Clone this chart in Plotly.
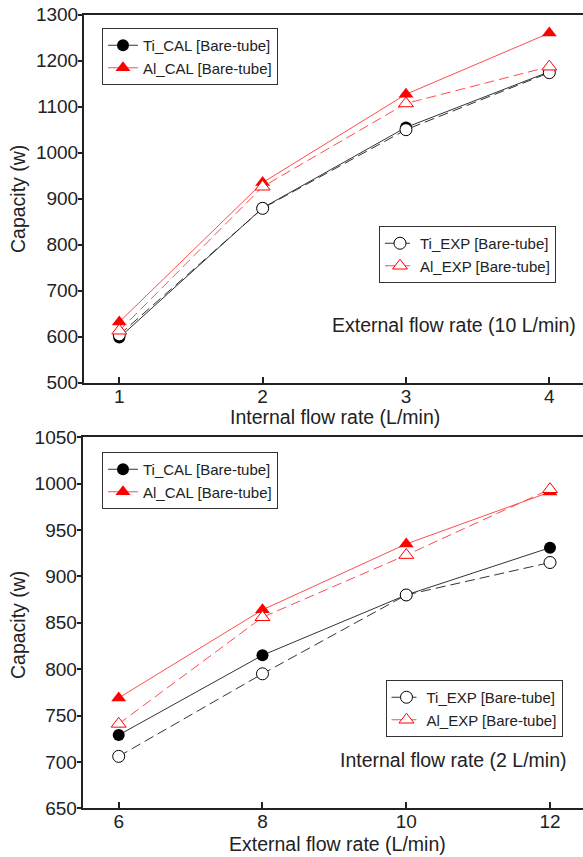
import plotly.graph_objects as go

# Top panel: capacity vs internal flow rate (external flow fixed at 10 L/min)
internal_flow = [1, 2, 3, 4]
top_ti_cal = [598, 880, 1055, 1176]
top_al_cal = [632, 935, 1127, 1260]
top_ti_exp = [604, 879, 1050, 1174]
top_al_exp = [613, 926, 1107, 1187]

# Bottom panel: capacity vs external flow rate (internal flow fixed at 2 L/min)
external_flow = [6, 8, 10, 12]
bot_ti_cal = [729, 815, 880, 931]
bot_al_cal = [769, 864, 935, 991]
bot_ti_exp = [706, 795, 880, 915]
bot_al_exp = [741, 856, 923, 994]

top_yticks = [500, 600, 700, 800, 900, 1000, 1100, 1200, 1300]
bot_yticks = [650, 700, 750, 800, 850, 900, 950, 1000, 1050]

W, H = 583, 857
FONT = "Liberation Sans, Arial, sans-serif"
TXT = "#222222"
BLACK_LINE = "#333333"
RED_LINE = "#ff4d4d"
RED = "#ff0000"


def px_x(p):
    return p / W


def px_y(p):
    return 1 - p / H


fig = go.Figure()


def add_series(x, y, name, xa, ya, legend, style):
    if style == "ti_cal":
        line = dict(color=BLACK_LINE, width=1)
        marker = dict(symbol="circle", size=12, color="black")
    elif style == "al_cal":
        line = dict(color=RED_LINE, width=1)
        marker = dict(symbol="triangle-up", size=13, color=RED)
    elif style == "ti_exp":
        line = dict(color=BLACK_LINE, width=1, dash="10px,5px")
        marker = dict(symbol="circle", size=12, color="white",
                      line=dict(color="black", width=1))
    else:
        line = dict(color=RED_LINE, width=1, dash="10px,5px")
        marker = dict(symbol="triangle-up", size=13, color="white",
                      line=dict(color=RED, width=1))
    fig.add_trace(go.Scatter(
        x=x, y=y, name=name, mode="lines+markers",
        line=line, marker=marker, xaxis=xa, yaxis=ya, legend=legend,
    ))


# top panel traces
add_series(internal_flow, top_ti_cal, "Ti_CAL [Bare-tube]", "x", "y", "legend", "ti_cal")
add_series(internal_flow, top_al_cal, "Al_CAL [Bare-tube]", "x", "y", "legend", "al_cal")
add_series(internal_flow, top_ti_exp, "Ti_EXP [Bare-tube]", "x", "y", "legend2", "ti_exp")
add_series(internal_flow, top_al_exp, "Al_EXP [Bare-tube]", "x", "y", "legend2", "al_exp")

# bottom panel traces
add_series(external_flow, bot_ti_cal, "Ti_CAL [Bare-tube]", "x2", "y2", "legend3", "ti_cal")
add_series(external_flow, bot_al_cal, "Al_CAL [Bare-tube]", "x2", "y2", "legend3", "al_cal")
add_series(external_flow, bot_ti_exp, "Ti_EXP [Bare-tube]", "x2", "y2", "legend4", "ti_exp")
add_series(external_flow, bot_al_exp, "Al_EXP [Bare-tube]", "x2", "y2", "legend4", "al_exp")

axis_common = dict(
    showgrid=False, zeroline=False, showline=True, automargin=False,
    linecolor="#222222", linewidth=2,
    tickfont=dict(family=FONT, size=19, color=TXT),
    tickcolor="#222222", tickwidth=1.5,
)
x_common = dict(axis_common, ticks="inside", ticklen=6, mirror=True,
                ticklabelstandoff=-5)
y_common = dict(axis_common, ticks="outside", ticklen=4, ticklabelstandoff=-4)

legend_common = dict(
    bgcolor="white", bordercolor="#333333", borderwidth=1,
    font=dict(family=FONT, size=15, color=TXT),
    xanchor="left", yanchor="top", tracegroupgap=0,
)

fig.update_layout(
    width=W, height=H,
    margin=dict(l=0, r=0, t=0, b=0, autoexpand=False),
    paper_bgcolor="white", plot_bgcolor="white",
    xaxis=dict(x_common, domain=[px_x(84), 1], range=[0.7537, 4.2351],
               tickvals=internal_flow, anchor="y"),
    yaxis=dict(y_common, domain=[px_y(382.7), px_y(14.7)], range=[500, 1300],
               tickvals=top_yticks, anchor="x"),
    xaxis2=dict(x_common, domain=[px_x(82.7), 1], range=[5.4992, 12.459],
                tickvals=external_flow, anchor="y2"),
    yaxis2=dict(y_common, domain=[px_y(808.3), px_y(437.3)], range=[650, 1050],
                tickvals=bot_yticks, anchor="x2"),
    legend=dict(legend_common, x=px_x(102), y=px_y(28)),
    legend2=dict(legend_common, x=px_x(379), y=px_y(226)),
    legend3=dict(legend_common, x=px_x(102), y=px_y(452)),
    legend4=dict(legend_common, x=px_x(385.5), y=px_y(680)),
    showlegend=True,
)

title_font = dict(family=FONT, size=19.5, color=TXT)
annotations = [
    dict(text="Capacity (w)", x=px_x(18), y=px_y(199), textangle=-90),
    dict(text="Capacity (w)", x=px_x(18), y=px_y(625), textangle=-90),
    dict(text="Internal flow rate (L/min)", x=px_x(335), y=px_y(417.5)),
    dict(text="External flow rate (L/min)", x=px_x(337), y=px_y(843.5)),
    dict(text="External flow rate (10 L/min)", x=px_x(578), y=px_y(325), xanchor="right"),
    dict(text="Internal flow rate (2 L/min)", x=px_x(569), y=px_y(760), xanchor="right"),
]
for a in annotations:
    a.setdefault("xanchor", "center")
    fig.add_annotation(xref="paper", yref="paper", yanchor="middle",
                       showarrow=False, font=title_font, **a)

fig.write_html("out.html")
